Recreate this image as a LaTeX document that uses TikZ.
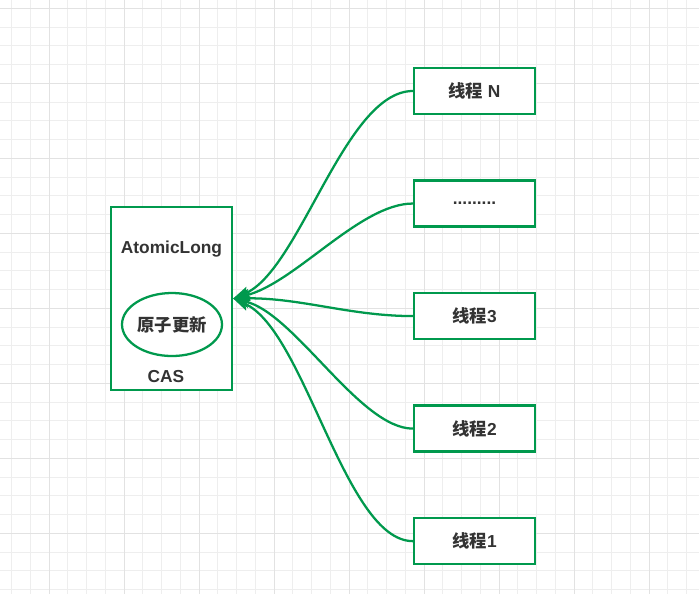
\documentclass[tikz,border=0pt]{standalone}
\usepackage{fontspec}
\setmainfont{Liberation Sans}
\newfontfamily\cjk{Noto Sans CJK SC}
\usepackage{tikz}
\usetikzlibrary{shapes.geometric, arrows.meta, positioning}

\definecolor{casgreen}{RGB}{0,153,77}
\definecolor{textgray}{RGB}{51,51,51}
\definecolor{gridminor}{RGB}{238,238,238}
\definecolor{gridmajor}{RGB}{226,226,226}

\begin{document}
\begin{tikzpicture}[
    x=0.75pt, y=-0.75pt,
    node distance=48.2pt,
    holder/.style={
        rectangle, draw=casgreen, line width=1.7pt, fill=white,
        minimum width=90.75pt, minimum height=137.25pt
    },
    thread/.style={
        rectangle, draw=casgreen, line width=1.7pt, fill=white,
        minimum width=90.75pt, minimum height=34.5pt,
        font=\fontsize{13}{15}\selectfont\bfseries, text=textgray
    },
    update/.style={
        ellipse, draw=casgreen, line width=1.7pt, inner sep=0pt,
        minimum width=75pt, minimum height=47.25pt,
        font=\fontsize{13}{15}\selectfont\bfseries\cjk, text=textgray
    },
    caption/.style={font=\fontsize{13}{15}\selectfont\bfseries, text=textgray},
    arrow/.style={-{Stealth[length=12.5pt, width=8.5pt, inset=2.5pt]}, line width=1.7pt, draw=casgreen},
    gridline/.style={draw=gridminor, line width=0.75pt},
    gridbold/.style={draw=gridmajor, line width=0.75pt}
]

% Background grid
\useasboundingbox[fill=white] (0,0) rectangle (699,594);
\foreach \i in {0,...,36} \draw[gridline] ({11.5+\i*18.75},0) -- ++(0,594);
\foreach \j in {0,...,31} \draw[gridline] (0,{8.33+\j*18.75}) -- ++(699,0);
\foreach \i in {0,...,8} \draw[gridbold] ({49+\i*75},0) -- ++(0,594);
\foreach \j in {0,...,7} \draw[gridbold] (0,{8.33+\j*75}) -- ++(699,0);

% AtomicLong holder
\node[holder] (atomic) at (171.5,298.5) {};
\node[caption] (atomicname) at (171.5,249) {AtomicLong};
\node[update] (update) at (172,324.5) {原子更新};
\node[caption] (cas) at (166,377) {CAS};

% Threads
\node[thread] (tN) at (474.5,91) {{\cjk 线程} N};
\node[thread, below=of tN] (tdots) {.........};
\node[thread, below=of tdots] (t3) {{\cjk 线程}3};
\node[thread, below=of t3] (t2) {{\cjk 线程}2};
\node[thread, below=of t2] (t1) {{\cjk 线程}1};

% Arrows
\draw[arrow] (tN.west) .. controls +(-68,0) and +(67,-28) .. (atomic.east);
\draw[arrow] (tdots.west) .. controls +(-53,0) and +(62,-15) .. (atomic.east);
\draw[arrow] (t3.west) .. controls +(-63,0) and +(67,-1) .. (atomic.east);
\draw[arrow] (t2.west) .. controls +(-53,0) and +(62,15) .. (atomic.east);
\draw[arrow] (t1.west) .. controls +(-68,0) and +(72,32) .. (atomic.east);

\end{tikzpicture}
\end{document}
